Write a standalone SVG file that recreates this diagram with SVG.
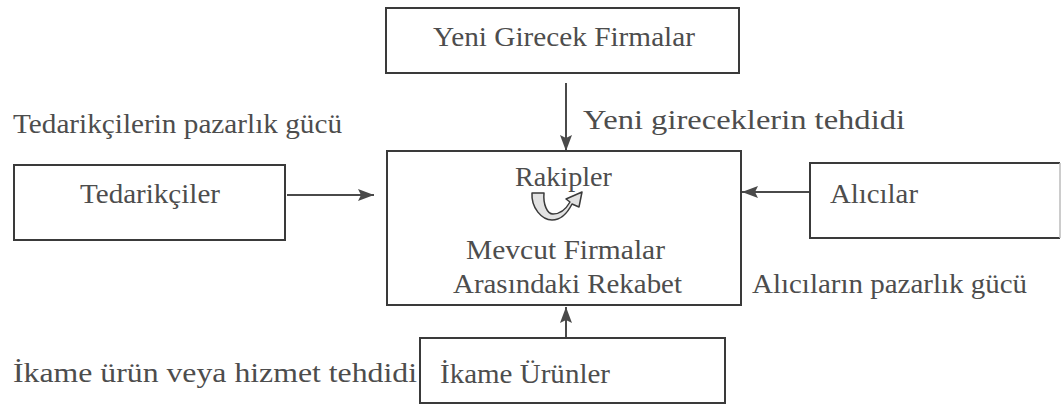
<svg xmlns="http://www.w3.org/2000/svg" width="1062" height="406" viewBox="0 0 1062 406">
<style>
  .box{fill:none;stroke:#3a3a3a;stroke-width:2}
  .t{font-family:"Liberation Serif","Times New Roman",serif;font-size:27px;fill:#4d4d4d}
  .ln{stroke:#4a4a4a;stroke-width:2;fill:none}
</style>
<defs>
  <marker id="ah2" viewBox="0 0 16 12" refX="16" refY="6" markerWidth="16" markerHeight="12" markerUnits="userSpaceOnUse" orient="auto">
    <path d="M0,0 L16,6 L0,12 L3,6 Z" fill="#4a4a4a"/>
  </marker>
</defs>
<rect width="1062" height="406" fill="#ffffff"/>

<g id="connectors">
  <line class="ln" x1="566" y1="83" x2="566" y2="151" marker-end="url(#ah2)"/>
  <line class="ln" x1="287" y1="195" x2="374" y2="195" marker-end="url(#ah2)"/>
  <line class="ln" x1="810" y1="192" x2="742" y2="192" marker-end="url(#ah2)"/>
  <line class="ln" x1="566" y1="338" x2="566" y2="307" marker-end="url(#ah2)"/>
</g>

<g id="node-yeni-girecek">
  <rect class="box" x="386" y="8" width="353" height="65"/>
  <text class="t" x="433" y="46" textLength="262" lengthAdjust="spacingAndGlyphs">Yeni Girecek Firmalar</text>
</g>

<g id="label-yeni-tehdit">
  <text class="t" x="583" y="129" textLength="322" lengthAdjust="spacingAndGlyphs">Yeni gireceklerin tehdidi</text>
</g>

<g id="label-tedarikci-guc">
  <text class="t" x="13" y="133" textLength="329" lengthAdjust="spacingAndGlyphs">Tedarikçilerin pazarlık gücü</text>
</g>

<g id="node-tedarikciler">
  <rect class="box" x="14" y="165" width="271" height="75"/>
  <text class="t" x="80" y="203" textLength="140" lengthAdjust="spacingAndGlyphs">Tedarikçiler</text>
</g>

<g id="node-rakipler">
  <rect class="box" x="387" y="151" width="354" height="154"/>
  <text class="t" x="515" y="186" textLength="97" lengthAdjust="spacingAndGlyphs">Rakipler</text>
  <path d="M532 193 C531 208 542 220 552 220 C561 220 568 212 572 204 L579 207 L582 192 L566 199 L570 202 C566 209 560 214 553 214 C547 214 543 204 544 193 Z" fill="#e2e2e2" stroke="#3a3a3a" stroke-width="1.5" stroke-linejoin="round"/>
  <text class="t" x="466" y="259" textLength="199" lengthAdjust="spacingAndGlyphs">Mevcut Firmalar</text>
  <text class="t" x="453" y="293" textLength="229" lengthAdjust="spacingAndGlyphs">Arasındaki Rekabet</text>
</g>

<g id="node-alicilar">
  <path class="box" d="M1060 163 L810 163 L810 238 L1060 238"/>
  <line x1="1060" y1="163" x2="1060" y2="238" stroke="#bbbbbb" stroke-width="1.5"/>
  <text class="t" x="830" y="203" textLength="88" lengthAdjust="spacingAndGlyphs">Alıcılar</text>
</g>

<g id="label-alici-guc">
  <text class="t" x="752" y="293" textLength="275" lengthAdjust="spacingAndGlyphs">Alıcıların pazarlık gücü</text>
</g>

<g id="node-ikame">
  <rect class="box" x="420" y="338" width="305" height="65"/>
  <text class="t" x="440" y="383" textLength="170" lengthAdjust="spacingAndGlyphs">İkame Ürünler</text>
</g>

<g id="label-ikame-tehdit">
  <text class="t" x="13" y="382" textLength="404" lengthAdjust="spacingAndGlyphs">İkame ürün veya hizmet tehdidi</text>
</g>
</svg>
